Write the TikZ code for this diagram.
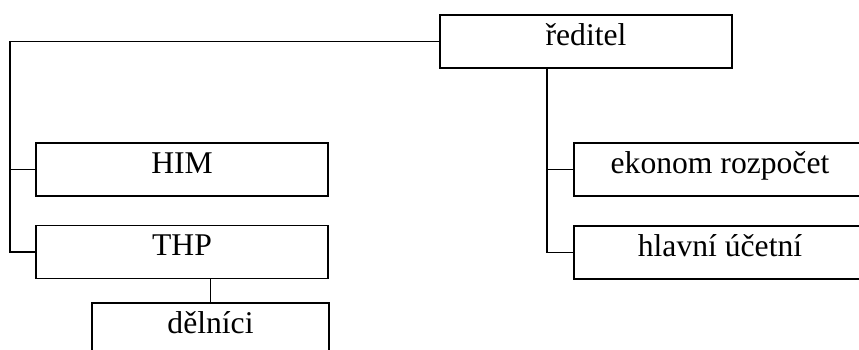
\documentclass[tikz,border=0pt]{standalone}
\usepackage{fontspec}
\setmainfont{Liberation Serif}
\usetikzlibrary{positioning}

\begin{document}
\begin{tikzpicture}[
            x=0.02cm, y=-0.02cm,
            box/.style={draw, line width=1.1pt, minimum height=1.06cm, inner sep=0pt,
                        text height=0.7em, text depth=0.3em,
                        font=\fontsize{18}{22}\selectfont},
            wide/.style={box, minimum width=5.84cm},
            narrow/.style={box, minimum width=4.74cm},
            link/.style={line width=0.8pt}
        ]
        \useasboundingbox (0,0) rectangle (859,350);
        \clip (0,0) rectangle (859,350);

        % top of the tree
        \node[wide] (reditel) at (586,41.5) {ředitel};

        % left branch
        \node[wide] (him) at (182,169.5) {HIM};
        \node[wide] (thp) at (182,252) {THP};
        \node[narrow] (delnici) at (210.5,329.5) {dělníci};

        % right branch
        \node[wide] (ekonom) at (720,169.5) {ekonom rozpočet};
        \node[wide] (hlavni) at (720,252.5) {hlavní účetní};

        % connectors on the left
        \coordinate (lbus) at (10,41.5);
        \draw[link] (reditel.west) -- (lbus) |- (thp.west);
        \draw[link] (lbus |- him.west) -- (him.west);
        \draw[link] (delnici.north |- thp.south) -- (delnici.north);

        % connectors on the right
        \coordinate (rbus) at (547,68);
        \draw[link] (rbus) |- (hlavni.west);
        \draw[link] (rbus |- ekonom.west) -- (ekonom.west);
    \end{tikzpicture}
\end{document}
